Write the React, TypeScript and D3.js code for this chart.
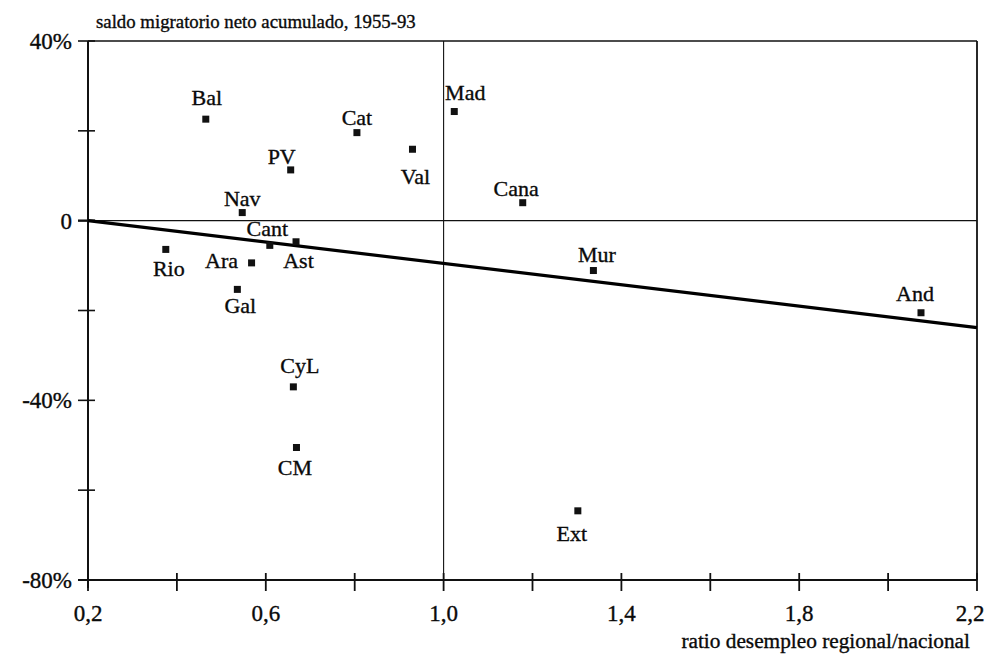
import React from "react";
import * as d3 from "d3";

const regions = ["Bal", "Cat", "Val", "PV", "Nav", "Cant", "Ast", "Rio", "Ara", "Gal", "Mad", "Cana", "Mur", "And", "CyL", "CM", "Ext"];
const unemploymentRatio = [0.465, 0.805, 0.93, 0.656, 0.547, 0.609, 0.668, 0.375, 0.568, 0.536, 1.024, 1.178, 1.337, 2.074, 0.662, 0.669, 1.302];
const netMigration = [22.6, 19.6, 15.9, 11.3, 1.8, -5.5, -4.7, -6.4, -9.4, -15.3, 24.3, 4.0, -11.1, -20.5, -37.0, -50.5, -64.6];

const xTicks = [0.2, 0.4, 0.6, 0.8, 1.0, 1.2, 1.4, 1.6, 1.8, 2.0, 2.2];
const xTickLabels = ["0,2", "", "0,6", "", "1,0", "", "1,4", "", "1,8", "", "2,2"];
const yTicks = [40, 20, 0, -20, -40, -60, -80];
const yTickLabels = ["40%", "", "0", "", "-40%", "", "-80%"];

const trendX = [0.2, 2.2];
const trendY = [0, -23.8];

const titleText = "saldo migratorio neto acumulado, 1955-93";
const xAxisTitle = "ratio desempleo regional/nacional";

// label placement (offsets from the marker, in px)
const labelPlacement: Record<string, [number, number, string]> = {
  Bal: [1, -14, "middle"],
  Cat: [0, -8, "middle"],
  Val: [3, 35, "middle"],
  PV: [-9, -6, "middle"],
  Nav: [0, -7, "middle"],
  Cant: [-2.5, -9.5, "middle"],
  Ast: [2.5, 26, "middle"],
  Rio: [3, 27, "middle"],
  Ara: [-13.5, 5, "end"],
  Gal: [3, 24, "middle"],
  Mad: [11, -12, "middle"],
  Cana: [-6.5, -6.5, "middle"],
  Mur: [3.5, -9, "middle"],
  And: [-6, -12, "middle"],
  CyL: [6.5, -13.5, "middle"],
  CM: [-1.5, 27.5, "middle"],
  Ext: [-6, 30.5, "middle"],
};

const SERIF = '"Liberation Serif", "DejaVu Serif", serif';

export default function App() {
  const W = 989;
  const H = 659;
  const x = d3.scaleLinear().domain([0.2, 2.2]).range([88, 977]);
  const y = d3.scaleLinear().domain([-80, 40]).range([580, 41]);
  const line = d3
    .line<number>()
    .x((_, i) => x(trendX[i]))
    .y((d) => y(d));
  const ts = (size: number) => ({ fontFamily: SERIF, fontSize: size + "px" });
  const ink = { fill: "#0a0a0a", stroke: "#0a0a0a", strokeWidth: 0.35 };

  return (
    <svg
      width={W}
      height={H}
      style={{ position: "absolute", left: 0, top: 0, background: "#fff" }}
    >
      {/* title */}
      <text x={96} y={28} style={ts(18.8)} {...ink}>
        {titleText}
      </text>

      {/* frame top and right */}
      <line x1={x(0.2)} x2={x(2.2)} y1={y(40)} y2={y(40)} stroke="#111" strokeWidth={1.6} />
      <line x1={x(2.2)} x2={x(2.2)} y1={y(40)} y2={y(-80)} stroke="#111" strokeWidth={1.8} />

      {/* reference lines */}
      <line x1={x(0.2)} x2={x(2.2)} y1={y(0)} y2={y(0)} stroke="#111" strokeWidth={1.1} />
      <line x1={x(1.0)} x2={x(1.0)} y1={y(40)} y2={y(-80)} stroke="#111" strokeWidth={1.1} />

      {/* axes */}
      <line x1={x(0.2)} x2={x(0.2)} y1={y(40)} y2={y(-80) + 8} stroke="#111" strokeWidth={2} />
      <line x1={x(0.2) - 10} x2={x(2.2)} y1={y(-80)} y2={y(-80)} stroke="#111" strokeWidth={2} />

      {/* y ticks */}
      {yTicks.map((t, i) => (
        <g key={"yt" + i}>
          <line x1={x(0.2) - 10} x2={x(0.2) + 7} y1={y(t)} y2={y(t)} stroke="#111" strokeWidth={t === 0 ? 2.4 : 1.6} />
          {yTickLabels[i] && (
            <text x={72} y={y(t)} dy="0.35em" textAnchor="end" style={ts(23)} {...ink}>
              {yTickLabels[i]}
            </text>
          )}
        </g>
      ))}

      {/* x ticks */}
      {xTicks.map((t, i) => (
        <g key={"xt" + i}>
          <line x1={x(t)} x2={x(t)} y1={y(-80) - 7} y2={y(-80) + 11} stroke="#111" strokeWidth={1.8} />
          {xTickLabels[i] && (
            <text
              x={x(t) + (i === xTicks.length - 1 ? -7 : 0)}
              y={621}
              textAnchor="middle"
              style={ts(23)}
              {...ink}
            >
              {xTickLabels[i]}
            </text>
          )}
        </g>
      ))}

      <text x={970} y={648} textAnchor="end" style={ts(21.3)} {...ink}>
        {xAxisTitle}
      </text>

      {/* trend line */}
      <path d={line(trendY) || ""} fill="none" stroke="#000" strokeWidth={3.2} />

      {/* markers and labels */}
      {regions.map((r, i) => {
        const cx = x(unemploymentRatio[i]);
        const cy = y(netMigration[i]);
        const [dx, dy, anchor] = labelPlacement[r];
        return (
          <g key={r}>
            <rect x={cx - 3.5} y={cy - 3.5} width={7} height={7} fill="#111" />
            <text x={cx + dx} y={cy + dy} textAnchor={anchor as any} style={ts(22)} {...ink}>
              {r}
            </text>
          </g>
        );
      })}
    </svg>
  );
}
